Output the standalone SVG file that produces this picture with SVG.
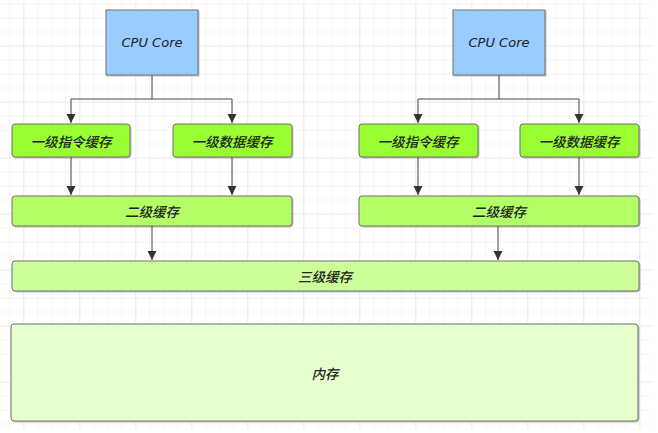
<svg xmlns="http://www.w3.org/2000/svg" width="658" height="433" viewBox="0 0 658 433">
<defs>
<pattern id="grid" x="9.3" y="3.5" width="14" height="14" patternUnits="userSpaceOnUse">
<path d="M0 0H14M0 0V14" fill="none" stroke="#ececec" stroke-width="1"/>
</pattern>
<pattern id="grid2" x="23.3" y="45.5" width="56" height="56" patternUnits="userSpaceOnUse">
<path d="M0 0H56M0 0V56" fill="none" stroke="#e2e2e2" stroke-width="1"/>
</pattern>
<marker id="arr" markerWidth="10" markerHeight="10" refX="9" refY="5" orient="auto" markerUnits="userSpaceOnUse">
<path d="M0 0.5L9 5L0 9.5Z" fill="#333"/>
</marker>
<filter id="sh" x="-5%" y="-5%" width="110%" height="120%">
<feDropShadow dx="1" dy="1" stdDeviation="0.6" flood-color="#000" flood-opacity="0.25"/>
</filter>
</defs>
<style>
.box{stroke:#6f6f6f;stroke-width:1;filter:url(#sh)}
.cpu{fill:#99ccff}
.l1{fill:#99ff33}
.l2{fill:#b3ff66}
.l3{fill:#ccff99}
.mem{fill:#e6ffcc}
.t{font-family:"Noto Sans CJK SC","DejaVu Sans",sans-serif;font-size:13.5px;font-weight:500;font-style:italic;fill:#222;text-anchor:middle;dominant-baseline:central}
.tc{font-family:"DejaVu Sans","Noto Sans CJK SC",sans-serif;font-size:13px;font-style:oblique;fill:#222;text-anchor:middle;dominant-baseline:central}
.c{fill:none;stroke:#444;stroke-width:1}
</style>
<rect width="658" height="433" fill="#ffffff"/>
<rect x="0" y="2" width="652" height="428" fill="url(#grid)"/>
<rect x="0" y="2" width="652" height="428" fill="url(#grid2)"/>
<g id="connectors">
<path class="c" d="M152 75V99H71V123" marker-end="url(#arr)"/>
<path class="c" d="M152 99H232V123" marker-end="url(#arr)"/>
<path class="c" d="M71 157V195" marker-end="url(#arr)"/>
<path class="c" d="M232 157V195" marker-end="url(#arr)"/>
<path class="c" d="M152 226V260" marker-end="url(#arr)"/>
<path class="c" d="M499 75V99H418V123" marker-end="url(#arr)"/>
<path class="c" d="M499 99H579V123" marker-end="url(#arr)"/>
<path class="c" d="M418 157V195" marker-end="url(#arr)"/>
<path class="c" d="M579 157V195" marker-end="url(#arr)"/>
<path class="c" d="M498 226V260" marker-end="url(#arr)"/>
</g>
<g id="cpu1"><rect class="box cpu" x="106" y="10" width="92" height="65"/><text class="tc" x="152" y="42.5">CPU Core</text></g>
<g id="cpu2"><rect class="box cpu" x="453" y="10" width="92" height="65"/><text class="tc" x="499" y="42.5">CPU Core</text></g>
<g id="l1i1"><rect class="box l1" x="12" y="124" width="118" height="33" rx="3"/><text class="t" x="71" y="140.5">一级指令缓存</text></g>
<g id="l1d1"><rect class="box l1" x="173" y="124" width="119" height="33" rx="3"/><text class="t" x="232" y="140.5">一级数据缓存</text></g>
<g id="l1i2"><rect class="box l1" x="359" y="124" width="119" height="33" rx="3"/><text class="t" x="418" y="140.5">一级指令缓存</text></g>
<g id="l1d2"><rect class="box l1" x="520" y="124" width="119" height="33" rx="3"/><text class="t" x="579" y="140.5">一级数据缓存</text></g>
<g id="l2a"><rect class="box l2" x="12" y="196" width="280" height="30" rx="3"/><text class="t" x="152" y="211">二级缓存</text></g>
<g id="l2b"><rect class="box l2" x="359" y="196" width="280" height="30" rx="3"/><text class="t" x="499" y="211">二级缓存</text></g>
<g id="l3"><rect class="box l3" x="12" y="261" width="627" height="30" rx="3"/><text class="t" x="325" y="276">三级缓存</text></g>
<g id="mem"><rect class="box mem" x="11" y="324" width="627" height="97" rx="3"/><text class="t" x="325" y="372.5">内存</text></g>
</svg>
